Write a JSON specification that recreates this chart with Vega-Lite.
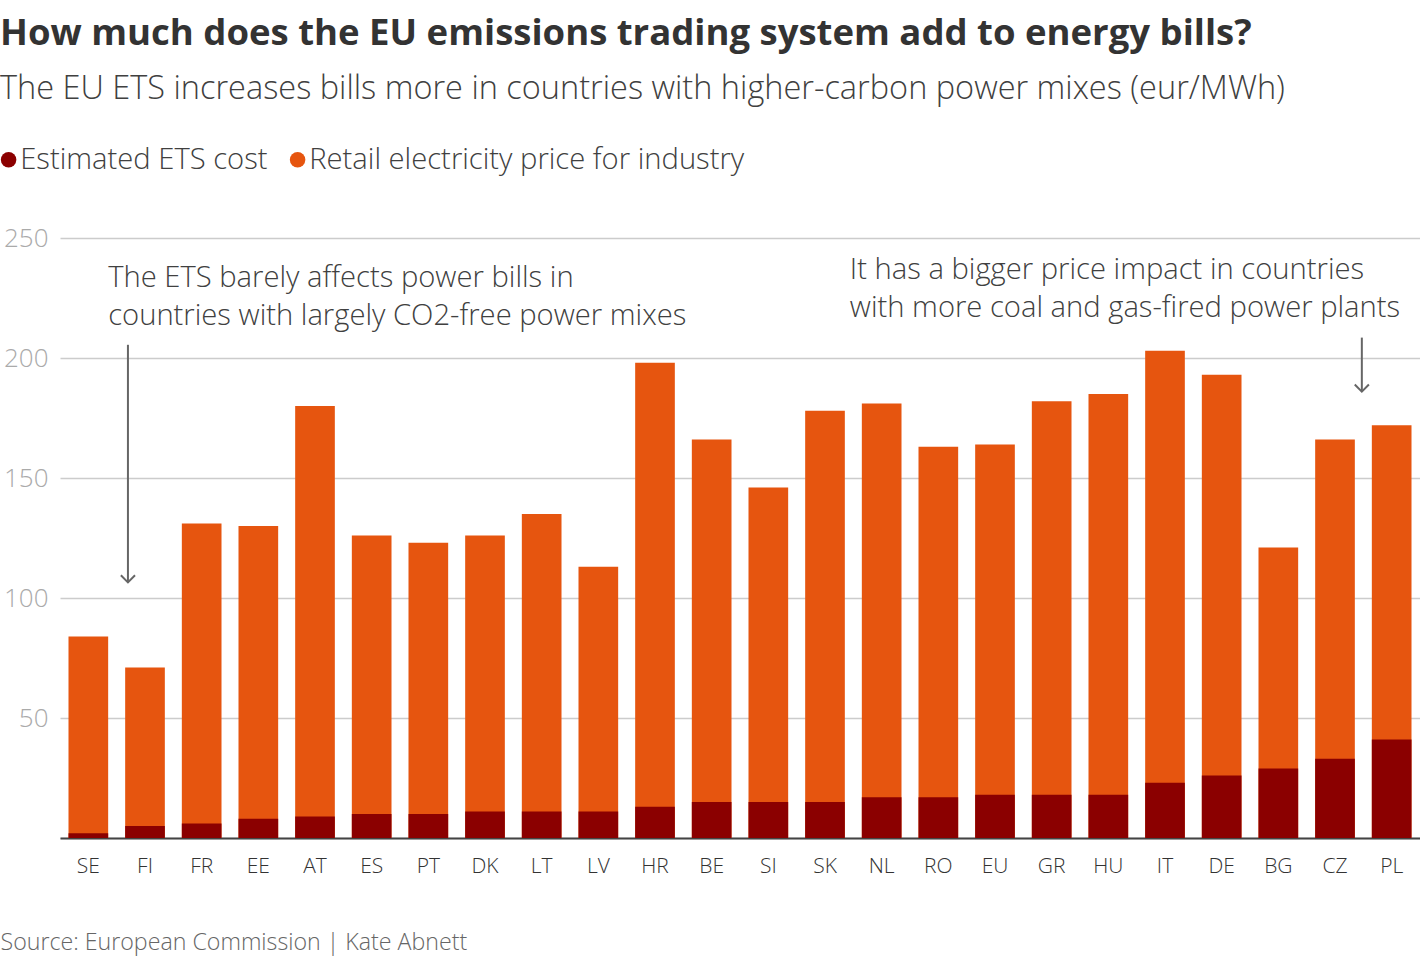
{
  "$schema": "https://vega.github.io/schema/vega-lite/v6.json",
  "autosize": {"type": "none"},
  "width": 1360,
  "height": 600,
  "padding": {"left": 60, "top": 238, "right": 0, "bottom": 120},
  "config": {
    "font": "Open Sans",
    "view": {"stroke": null}
  },
  "title": {
    "text": "How much does the EU emissions trading system add to energy bills?",
    "subtitle": "The EU ETS increases bills more in countries with higher-carbon power mixes (eur/MWh)",
    "anchor": "start",
    "frame": "group",
    "dx": -60,
    "fontSize": 36.5,
    "fontWeight": "bold",
    "color": "#333333",
    "subtitleFontSize": 32.5,
    "subtitleColor": "#404040",
    "subtitleFontWeight": 300,
    "subtitlePadding": 20,
    "offset": 40
  },
  "datasets": {
    "bars": [
      {"country": "SE", "retail": 84, "ets": 2},
      {"country": "FI", "retail": 71, "ets": 5},
      {"country": "FR", "retail": 131, "ets": 6},
      {"country": "EE", "retail": 130, "ets": 8},
      {"country": "AT", "retail": 180, "ets": 9},
      {"country": "ES", "retail": 126, "ets": 10},
      {"country": "PT", "retail": 123, "ets": 10},
      {"country": "DK", "retail": 126, "ets": 11},
      {"country": "LT", "retail": 135, "ets": 11},
      {"country": "LV", "retail": 113, "ets": 11},
      {"country": "HR", "retail": 198, "ets": 13},
      {"country": "BE", "retail": 166, "ets": 15},
      {"country": "SI", "retail": 146, "ets": 15},
      {"country": "SK", "retail": 178, "ets": 15},
      {"country": "NL", "retail": 181, "ets": 17},
      {"country": "RO", "retail": 163, "ets": 17},
      {"country": "EU", "retail": 164, "ets": 18},
      {"country": "GR", "retail": 182, "ets": 18},
      {"country": "HU", "retail": 185, "ets": 18},
      {"country": "IT", "retail": 203, "ets": 23},
      {"country": "DE", "retail": 193, "ets": 26},
      {"country": "BG", "retail": 121, "ets": 29},
      {"country": "CZ", "retail": 166, "ets": 33},
      {"country": "PL", "retail": 172, "ets": 41}
    ],
    "noteLeft": [
      {"country": "SE", "y": 233.3, "text": ["The ETS barely affects power bills in", "countries with largely CO2-free power mixes"]}
    ],
    "noteRight": [
      {"country": "NL", "y": 236.7, "text": ["It has a bigger price impact in countries", "with more coal and gas-fired power plants"]}
    ],
    "arrowLeft": [
      {"country": "FI", "y1": 205.5, "y2": 106.5}
    ],
    "arrowRight": [
      {"country": "PL", "y1": 208.5, "y2": 186}
    ]
  },
  "layer": [
    {
      "data": {"name": "bars"},
      "transform": [
        {"fold": ["retail", "ets"], "as": ["series", "value"]},
        {"calculate": "datum.series === 'ets' ? 'Estimated ETS cost' : 'Retail electricity price for industry'", "as": "label"},
        {"calculate": "datum.series === 'ets' ? 1 : 0", "as": "ord"}
      ],
      "mark": {"type": "bar"},
      "encoding": {
        "x": {
          "field": "country", "type": "nominal", "sort": null,
          "scale": {"paddingInner": 0.3, "paddingOuter": 0.15},
          "axis": {
            "title": "Source: European Commission | Kate Abnett",
            "titleAnchor": "start", "titleAlign": "left", "titleX": -60, "titleY": 104,
            "titleBaseline": "middle", "titleFontSize": 23.2, "titleFontWeight": 300, "titleColor": "#666666",
            "labelAngle": 0, "labelFontSize": 21, "labelFontWeight": 300, "labelColor": "#333333", "labelPadding": 28,
            "labelBaseline": "middle",
            "ticks": false, "domainColor": "#444444", "domainWidth": 2
          }
        },
        "y": {
          "field": "value", "type": "quantitative", "stack": null,
          "scale": {"domain": [0, 250], "nice": false},
          "axis": {
            "title": null, "values": [0, 50, 100, 150, 200, 250],
            "labelExpr": "datum.value === 0 ? '' : datum.label",
            "ticks": false, "domain": false, "gridColor": "#cccccc", "gridWidth": 1.5,
            "labelAlign": "right", "labelPadding": 12, "labelFontSize": 26, "labelFontWeight": 300, "labelColor": "#aaaaaa",
            "labelBaseline": "middle", "minExtent": 60, "maxExtent": 60
          }
        },
        "color": {
          "field": "label", "type": "nominal",
          "scale": {"domain": ["Estimated ETS cost", "Retail electricity price for industry"], "range": ["#8b0000", "#e6550f"]},
          "legend": {
            "title": null, "orient": "none", "legendX": -66, "legendY": -93, "direction": "horizontal",
            "symbolType": "circle", "symbolSize": 240, "symbolStrokeWidth": 0, "labelFontSize": 29.2, "labelFontWeight": 300, "labelColor": "#404040",
            "labelLimit": 0, "columnPadding": 15, "labelOffset": -3, "symbolOffset": 0
          }
        },
        "order": {"field": "ord"}
      }
    },
    {
      "data": {"name": "noteLeft"},
      "mark": {"type": "text", "align": "left", "baseline": "middle", "fontSize": 29.2, "fontWeight": 300, "color": "#404040", "lineHeight": 38},
      "encoding": {
        "x": {"field": "country", "type": "nominal", "sort": null, "bandPosition": 1},
        "y": {"field": "y", "type": "quantitative", "scale": {"domain": [0, 250], "nice": false}},
        "text": {"field": "text"}
      }
    },
    {
      "data": {"name": "noteRight"},
      "mark": {"type": "text", "align": "left", "baseline": "middle", "fontSize": 29.2, "fontWeight": 300, "color": "#404040", "lineHeight": 38, "dx": -12},
      "encoding": {
        "x": {"field": "country", "type": "nominal", "sort": null, "bandPosition": 0},
        "y": {"field": "y", "type": "quantitative", "scale": {"domain": [0, 250], "nice": false}},
        "text": {"field": "text"}
      }
    },
    {
      "data": {"name": "arrowLeft"},
      "layer": [
        {
          "mark": {"type": "rule", "color": "#666666", "strokeWidth": 2},
          "encoding": {
            "x": {"field": "country", "type": "nominal", "sort": null, "bandPosition": 0.07},
            "y": {"field": "y1", "type": "quantitative", "scale": {"domain": [0, 250], "nice": false}},
            "y2": {"field": "y2"}
          }
        },
        {
          "mark": {"type": "point", "shape": "M-1,-1L0,0L1,-1", "filled": false, "color": "#666666", "opacity": 1, "strokeWidth": 2, "size": 200},
          "encoding": {
            "x": {"field": "country", "type": "nominal", "sort": null, "bandPosition": 0.07},
            "y": {"field": "y2", "type": "quantitative", "scale": {"domain": [0, 250], "nice": false}}
          }
        }
      ]
    },
    {
      "data": {"name": "arrowRight"},
      "layer": [
        {
          "mark": {"type": "rule", "color": "#666666", "strokeWidth": 2, "xOffset": -10},
          "encoding": {
            "x": {"field": "country", "type": "nominal", "sort": null, "bandPosition": 0},
            "y": {"field": "y1", "type": "quantitative", "scale": {"domain": [0, 250], "nice": false}},
            "y2": {"field": "y2"}
          }
        },
        {
          "mark": {"type": "point", "shape": "M-1,-1L0,0L1,-1", "filled": false, "color": "#666666", "opacity": 1, "strokeWidth": 2, "size": 200, "xOffset": -10},
          "encoding": {
            "x": {"field": "country", "type": "nominal", "sort": null, "bandPosition": 0},
            "y": {"field": "y2", "type": "quantitative", "scale": {"domain": [0, 250], "nice": false}}
          }
        }
      ]
    }
  ]
}
